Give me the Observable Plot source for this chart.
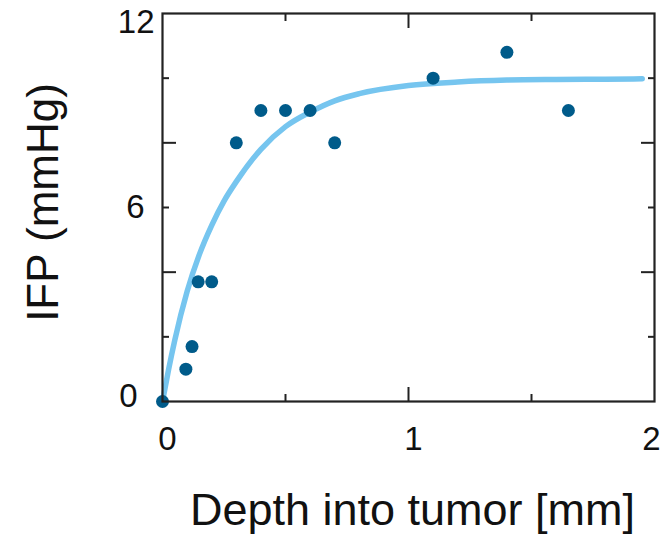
<!DOCTYPE html>
<html>
<head>
<meta charset="utf-8">
<script src="https://cdn.jsdelivr.net/npm/d3@7"></script>
<script src="https://cdn.jsdelivr.net/npm/@observablehq/plot@0.6"></script>
<style>
  html, body { margin: 0; padding: 0; background: #fff; }
  #chart svg { display: block; }
</style>
</head>
<body>
<div id="chart"></div>
<script>
// Measured data points: depth (mm) and IFP (mmHg)
const depth = [0, 0.095, 0.12, 0.145, 0.2, 0.3, 0.4, 0.5, 0.6, 0.7, 1.1, 1.4, 1.65];
const ifp   = [0, 1.0, 1.7, 3.7, 3.7, 8.0, 9.0, 9.0, 9.0, 8.0, 10.0, 10.8, 9.0];

// Fitted curve
const fitDepth = [0, 0.025, 0.05, 0.1, 0.15, 0.2, 0.25, 0.3, 0.4, 0.5, 0.6, 0.7, 0.8, 1.0, 1.2, 1.4, 1.6, 1.8, 1.95];
const fitIfp   = [0, 1.0, 1.9, 3.4, 4.55, 5.45, 6.2, 6.8, 7.8, 8.5, 8.95, 9.3, 9.52, 9.77, 9.88, 9.94, 9.96, 9.97, 9.98];

// Tick values
const xMajorTicks = [1];
const xMinorTicks = [0.5, 1.5];
const yMajorTicks = [4, 8];
const yMinorTicks = [2, 6, 10];

const xTitle = "Depth into tumor [mm]";
const yTitle = "IFP (mmHg)";

const points = depth.map((d, i) => ({depth: d, ifp: ifp[i]}));
const fit = fitDepth.map((d, i) => ({depth: d, ifp: fitIfp[i]}));

const ink = "#222";
const tickFont = 33;
const txt = "#111";

const xLabel = (v, dx) => Plot.axisX({anchor: "bottom", ticks: [v], tickSize: 0, tickPadding: 25, dx, fontSize: tickFont, label: null, tickFormat: d3.format("d"), fill: txt});
const yLabel = (v, pad, dy) => Plot.axisY({anchor: "left", ticks: [v], tickSize: 0, tickPadding: pad, dy, fontSize: tickFont, label: null, fill: txt});
const tickAxis = (axis, anchor, ticks, size) => axis({anchor, ticks, tickSize: size, text: null, label: null, stroke: ink, strokeWidth: 2});

const chart = Plot.plot({
  width: 662,
  height: 534,
  marginLeft: 162,
  marginRight: 8,
  marginTop: 13,
  marginBottom: 133,
  style: {fontFamily: "'Liberation Sans', Arial, Helvetica, sans-serif", background: "#fff", color: ink},
  x: {domain: [0, 2]},
  y: {domain: [0, 12]},
  marks: [
    Plot.line(fit, {x: "depth", y: "ifp", stroke: "#76c5ef", strokeWidth: 5.5, curve: "monotone-x"}),
    Plot.dot(points, {x: "depth", y: "ifp", r: 6.5, fill: "#005b8a", stroke: "none"}),
    // tick labels
    xLabel(0, 5), xLabel(1, 5), xLabel(2, -3),
    yLabel(12, 8, 9), yLabel(6, 18, 0), yLabel(0, 25, -5),
    // inward ticks on all four sides
    tickAxis(Plot.axisX, "bottom", xMajorTicks, -14),
    tickAxis(Plot.axisX, "bottom", xMinorTicks, -7),
    tickAxis(Plot.axisX, "top", xMajorTicks, -14),
    tickAxis(Plot.axisX, "top", xMinorTicks, -7),
    tickAxis(Plot.axisY, "left", yMajorTicks, -14),
    tickAxis(Plot.axisY, "left", yMinorTicks, -7),
    tickAxis(Plot.axisY, "right", yMajorTicks, -14),
    tickAxis(Plot.axisY, "right", yMinorTicks, -7),
    Plot.frame({stroke: ink, strokeWidth: 2.2}),
    // axis titles
    Plot.text([xTitle], {frameAnchor: "bottom", dy: 109, dx: 4, textAnchor: "middle", lineAnchor: "middle", fontSize: 45, fill: txt}),
    Plot.text([yTitle], {frameAnchor: "left", rotate: -90, dx: -119, dy: -5, textAnchor: "middle", lineAnchor: "middle", fontSize: 44, fill: txt})
  ]
});

document.getElementById("chart").appendChild(chart);
</script>
</body>
</html>
